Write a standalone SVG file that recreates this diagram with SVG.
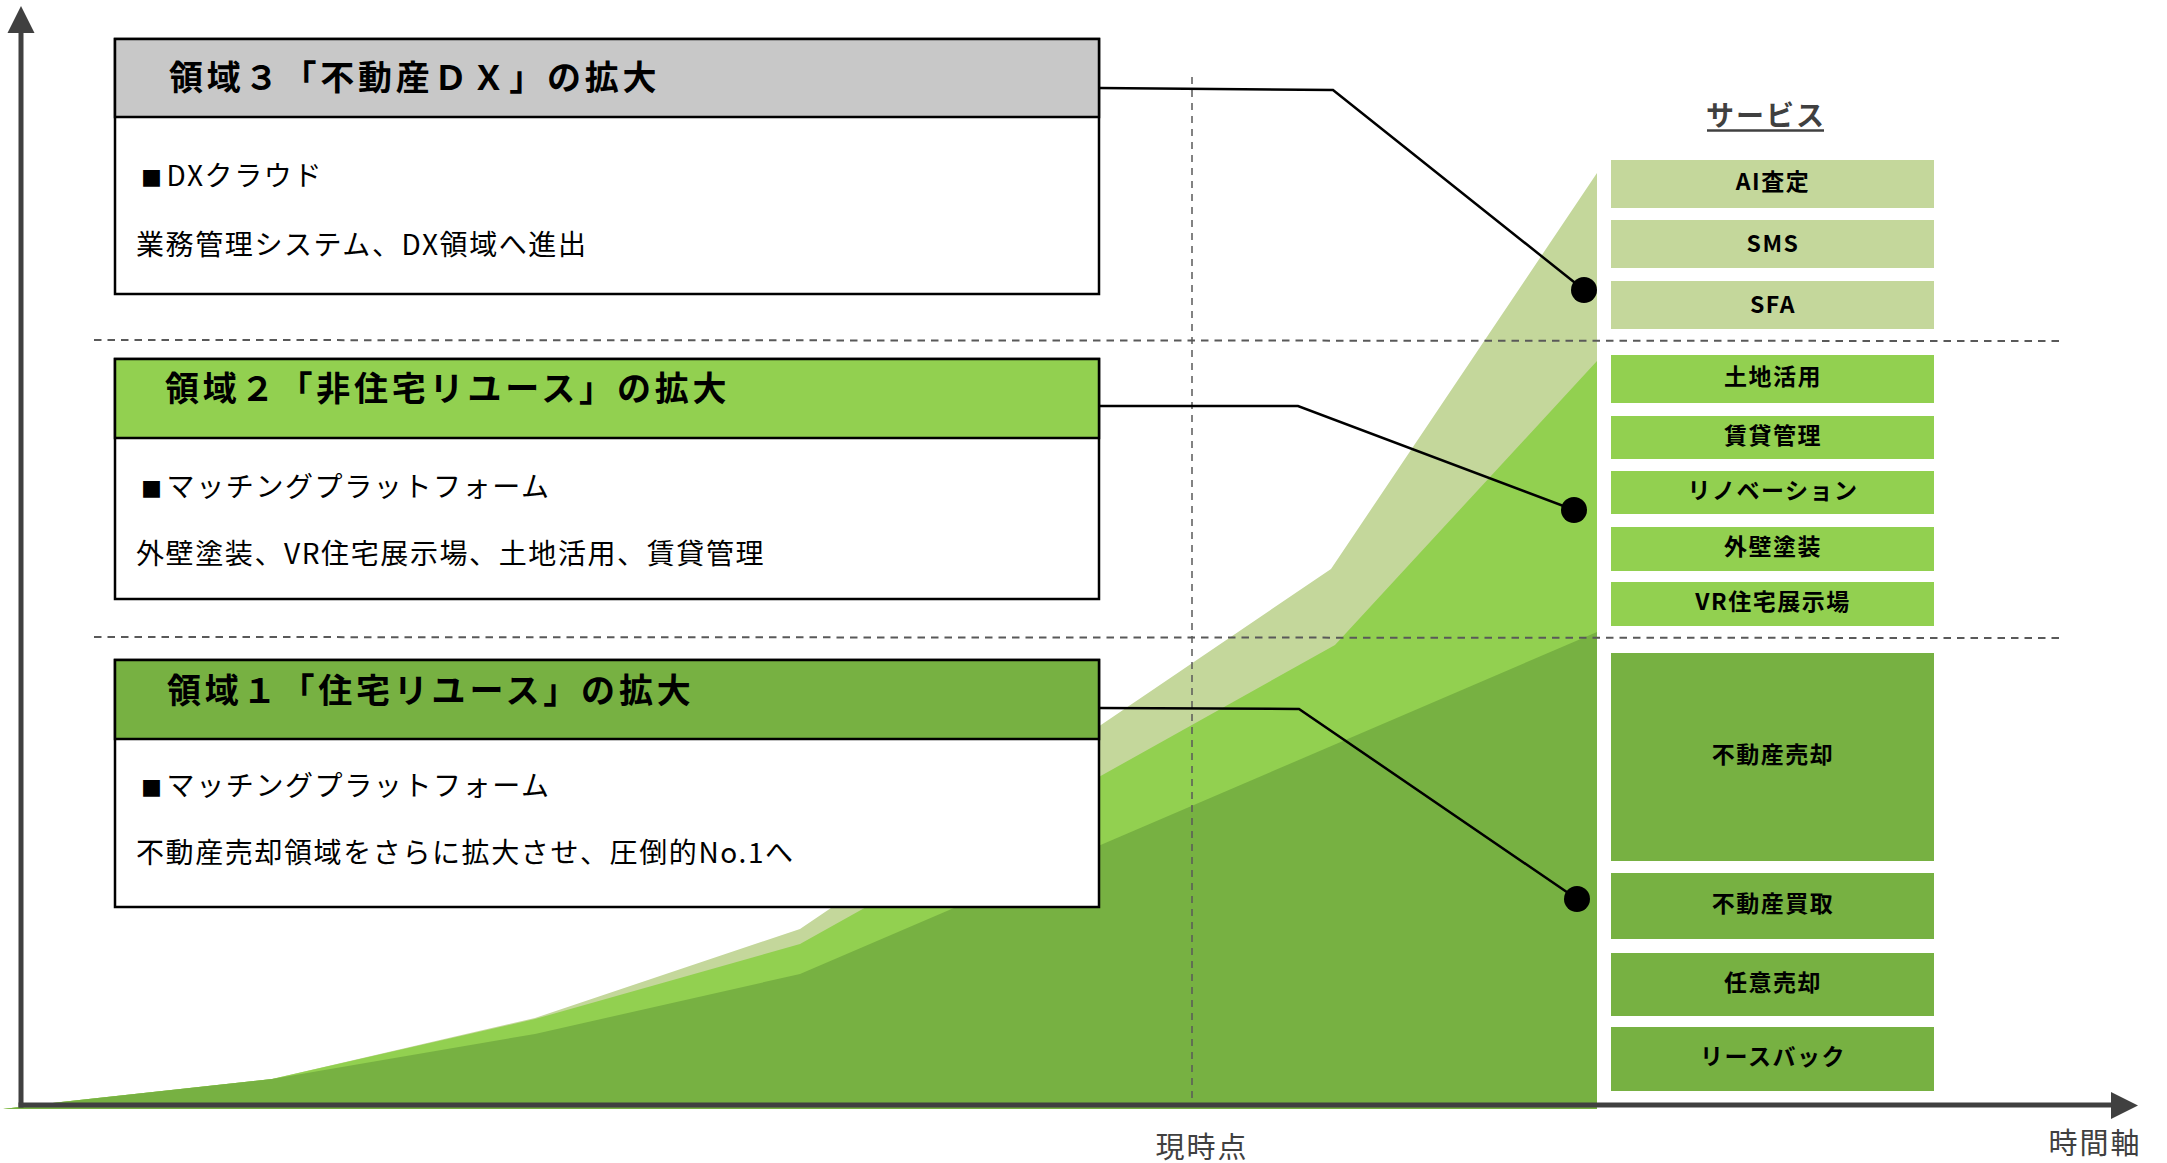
<svg xmlns="http://www.w3.org/2000/svg" width="2167" height="1163" viewBox="0 0 2167 1163">
<style>
  text { font-family: "Noto Sans CJK JP", "Noto Sans", sans-serif; }
  .title { font-size: 34px; font-weight: 700; fill: #000; letter-spacing: 3.8px; }
  .body { font-size: 28px; font-weight: 400; fill: #000; letter-spacing: 1.6px; }
  .sq { font-size: 21px; }
  .svc { font-size: 23px; font-weight: 700; fill: #000; text-anchor: middle; letter-spacing: 1.5px; }
  .axislbl { font-size: 29px; fill: #404040; text-anchor: middle; letter-spacing: 2px; }
  .box { fill: #fff; stroke: #000; stroke-width: 2.5; }
  .light { fill: #C4D79B; }
  .mid { fill: #92D050; }
  .dark { fill: #77B142; }
  .hdash { stroke: #595959; stroke-width: 2; stroke-dasharray: 7.5 6; fill: none; }
  .vdash { stroke: #595959; stroke-width: 1.5; stroke-dasharray: 7 6; fill: none; }
  .conn { stroke: #000; stroke-width: 2.5; fill: none; }
  .axis { stroke: #404040; stroke-width: 5; }
</style>

<g id="areas">
  <polygon class="light" points="3,1109 61,1102 272,1079 535,1018 800,929 1331,569 1597,173 1597,1109"/>
  <polygon class="mid" points="3,1109 61,1102 272,1079 535,1019 800,944 1335,645 1597,361 1597,1109"/>
  <polygon class="dark" points="3,1109 61,1102 272,1079 535,1034 800,974 1597,632 1597,1109"/>
</g>

<g id="guides">
  <line class="hdash" x1="94" y1="340" x2="2063" y2="341"/>
  <line class="hdash" x1="94" y1="637" x2="2063" y2="638"/>
  <line class="vdash" x1="1192" y1="77" x2="1192" y2="1105"/>
</g>

<g id="box3">
  <rect class="box" x="115" y="39" width="984" height="255"/>
  <rect x="115" y="39" width="984" height="78" fill="#C8C8C8" stroke="#000" stroke-width="2.5"/>
  <text class="title" x="169" y="90">領域３「不動産ＤＸ」の拡大</text>
  <text class="body" x="141" y="186"><tspan class="sq">■</tspan><tspan dx="3">DXクラウド</tspan></text>
  <text class="body" x="136" y="255">業務管理システム、DX領域へ進出</text>
</g>

<g id="box2">
  <rect class="box" x="115" y="359" width="984" height="240"/>
  <rect x="115" y="359" width="984" height="79" fill="#92D050" stroke="#000" stroke-width="2.5"/>
  <text class="title" x="165" y="401">領域２「非住宅リユース」の拡大</text>
  <text class="body" x="141" y="497"><tspan class="sq">■</tspan><tspan dx="3">マッチングプラットフォーム</tspan></text>
  <text class="body" x="136" y="564">外壁塗装、VR住宅展示場、土地活用、賃貸管理</text>
</g>

<g id="box1">
  <rect class="box" x="115" y="660" width="984" height="247"/>
  <rect x="115" y="660" width="984" height="79" fill="#77B142" stroke="#000" stroke-width="2.5"/>
  <text class="title" x="167" y="703">領域１「住宅リユース」の拡大</text>
  <text class="body" x="141" y="796"><tspan class="sq">■</tspan><tspan dx="3">マッチングプラットフォーム</tspan></text>
  <text class="body" x="136" y="863">不動産売却領域をさらに拡大させ、圧倒的No.1へ</text>
</g>

<g id="connectors">
  <polyline class="conn" points="1099,88 1333,90 1584,290"/>
  <circle cx="1584" cy="290" r="13" fill="#000"/>
  <polyline class="conn" points="1099,406 1298,406 1574,510"/>
  <circle cx="1574" cy="510" r="13" fill="#000"/>
  <polyline class="conn" points="1099,708 1299,709 1577,899"/>
  <circle cx="1577" cy="899" r="13" fill="#000"/>
</g>

<g id="services">
  <text x="1766" y="126" font-size="28" font-weight="700" fill="#404040" text-anchor="middle" letter-spacing="2">サービス</text>
  <line x1="1707" y1="130.5" x2="1824" y2="130.5" stroke="#404040" stroke-width="2.5"/>
  <g id="svc-ai"><rect class="light" x="1611" y="160" width="323" height="48"/><text class="svc" x="1773" y="190">AI査定</text></g>
  <g id="svc-sms"><rect class="light" x="1611" y="220" width="323" height="48"/><text class="svc" x="1773" y="252">SMS</text></g>
  <g id="svc-sfa"><rect class="light" x="1611" y="281" width="323" height="48"/><text class="svc" x="1773" y="313">SFA</text></g>
  <g id="svc-land"><rect class="mid" x="1611" y="355" width="323" height="48"/><text class="svc" x="1773" y="385">土地活用</text></g>
  <g id="svc-rent"><rect class="mid" x="1611" y="416" width="323" height="43"/><text class="svc" x="1773" y="443.5">賃貸管理</text></g>
  <g id="svc-reno"><rect class="mid" x="1611" y="471" width="323" height="43"/><text class="svc" x="1773" y="498.5">リノベーション</text></g>
  <g id="svc-wall"><rect class="mid" x="1611" y="527" width="323" height="44"/><text class="svc" x="1773" y="555">外壁塗装</text></g>
  <g id="svc-vr"><rect class="mid" x="1611" y="582" width="323" height="44"/><text class="svc" x="1773" y="610">VR住宅展示場</text></g>
  <g id="svc-sell"><rect class="dark" x="1611" y="653" width="323" height="208"/><text class="svc" x="1773" y="763">不動産売却</text></g>
  <g id="svc-buy"><rect class="dark" x="1611" y="873" width="323" height="66"/><text class="svc" x="1773" y="912">不動産買取</text></g>
  <g id="svc-nin"><rect class="dark" x="1611" y="953" width="323" height="63"/><text class="svc" x="1773" y="990.5">任意売却</text></g>
  <g id="svc-lease"><rect class="dark" x="1611" y="1027" width="323" height="64"/><text class="svc" x="1773" y="1065">リースバック</text></g>
</g>

<g id="axes">
  <line class="axis" x1="21" y1="30" x2="21" y2="1107.5"/>
  <polygon points="21,6 7.5,33 34.5,33" fill="#404040"/>
  <line class="axis" x1="18.5" y1="1105" x2="2113" y2="1105"/>
  <polygon points="2138,1105.5 2111,1092 2111,1119" fill="#404040"/>
  <text class="axislbl" x="1202" y="1158">現時点</text>
  <text class="axislbl" x="2095" y="1154">時間軸</text>
</g>
</svg>
